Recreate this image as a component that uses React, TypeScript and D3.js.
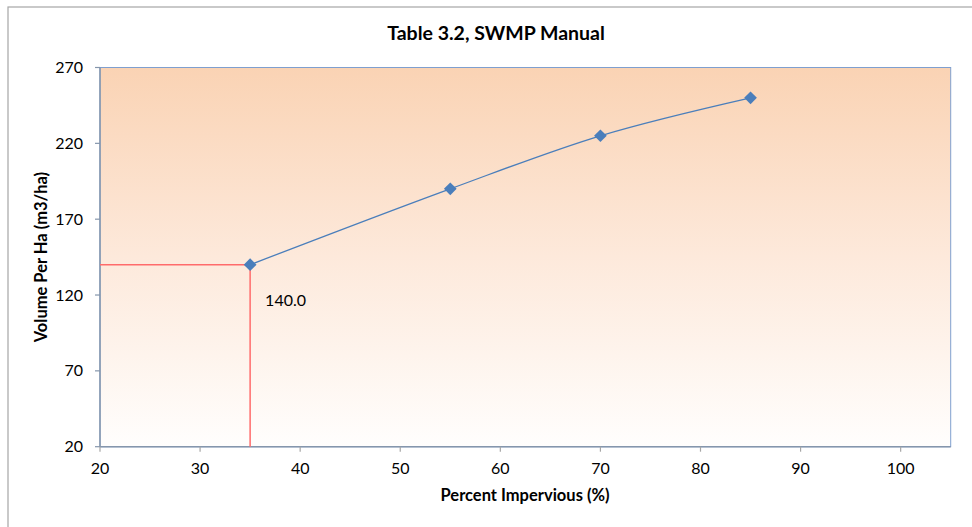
import React from "react";
import * as d3 from "d3";

const percentImpervious = [35, 55, 70, 85];
const volumePerHa = [140, 190, 225, 250];
const xTicks = [20, 30, 40, 50, 60, 70, 80, 90, 100];
const yTicks = [20, 70, 120, 170, 220, 270];
const markedX = 35;
const markedY = 140;

const W = 972;
const H = 527;
const plot = { left: 100, top: 67.5, right: 950.7, bottom: 446.7 };
const font = "Lato, 'Open Sans', sans-serif";

export default function App() {
  const x = d3.scaleLinear().domain([20, 105]).range([plot.left, plot.right]);
  const y = d3.scaleLinear().domain([20, 270]).range([plot.bottom, plot.top]);
  const pts: [number, number][] = percentImpervious.map((p, i) => [p, volumePerHa[i]]);
  const line = d3
    .line<[number, number]>()
    .x((d) => x(d[0]))
    .y((d) => y(d[1]))
    .curve(d3.curveCatmullRom.alpha(0.5));

  return (
    <svg
      width={W}
      height={H}
      style={{ position: "absolute", left: 0, top: 0, background: "#fff" }}
    >
      <defs>
        <linearGradient id="plotFill" x1="0" y1="0" x2="0" y2="1">
          <stop offset="0" stopColor="#fad3b4" />
          <stop offset="0.5" stopColor="#fde9db" />
          <stop offset="1" stopColor="#fffefd" />
        </linearGradient>
      </defs>
      {/* chart frame */}
      <rect x={8} y={7} width={1000} height={600} fill="#fff" stroke="#a6a6a6" strokeWidth={1.2} />

      <text x={496} y={40} textAnchor="middle" fontFamily={font} fontWeight="bold" fontSize={19.5} fill="#000">
        Table 3.2, SWMP Manual
      </text>

      {/* plot area */}
      <rect
        x={plot.left}
        y={plot.top}
        width={plot.right - plot.left}
        height={plot.bottom - plot.top}
        fill="url(#plotFill)"
        stroke="#7f9fcf"
        strokeWidth={1}
      />

      {/* y axis */}
      <line x1={plot.left} y1={plot.top} x2={plot.left} y2={plot.bottom} stroke="#8596ac" strokeWidth={1.5} />
      {yTicks.map((t) => (
        <g key={"y" + t}>
          <line x1={plot.left - 5} x2={plot.left} y1={y(t)} y2={y(t)} stroke="#8596ac" strokeWidth={1.2} />
          <text x={83} y={y(t) + 5.5} textAnchor="end" fontFamily={font} fontSize={16} fill="#000">
            {t}
          </text>
        </g>
      ))}

      {/* x axis */}
      <line x1={plot.left} y1={plot.bottom} x2={plot.right} y2={plot.bottom} stroke="#8596ac" strokeWidth={1.5} />
      {xTicks.map((t) => (
        <g key={"x" + t}>
          <line x1={x(t)} x2={x(t)} y1={plot.bottom} y2={plot.bottom + 5} stroke="#a6a6a6" strokeWidth={1.2} />
          <text x={x(t)} y={474} textAnchor="middle" fontFamily={font} fontSize={16} fill="#000">
            {t}
          </text>
        </g>
      ))}

      <text x={525} y={501} textAnchor="middle" fontFamily={font} fontWeight="bold" fontSize={16.5} fill="#000">
        Percent Impervious (%)
      </text>
      <text
        transform={`translate(47,${(plot.top + plot.bottom) / 2}) rotate(-90)`}
        textAnchor="middle"
        fontFamily={font}
        fontWeight="bold"
        fontSize={16.5}
        fill="#000"
      >
        Volume Per Ha (m3/ha)
      </text>

      {/* reading guide lines */}
      <line x1={x(20)} x2={x(markedX)} y1={y(markedY)} y2={y(markedY)} stroke="#ff6b6b" strokeWidth={1.5} />
      <line x1={x(markedX)} x2={x(markedX)} y1={y(markedY)} y2={y(20)} stroke="#ff6b6b" strokeWidth={1.5} />

      {/* series */}
      <path d={line(pts) ?? ""} fill="none" stroke="#4a7ebb" strokeWidth={1.3} />
      {pts.map((d, i) => (
        <rect
          key={i}
          x={x(d[0]) - 4.5}
          y={y(d[1]) - 4.5}
          width={9}
          height={9}
          fill="#4a7ebb"
          transform={`rotate(45 ${x(d[0])} ${y(d[1])})`}
        />
      ))}

      <text x={x(markedX) + 15} y={y(markedY) + 41} fontFamily={font} fontSize={16} fill="#000">
        {markedY.toFixed(1)}
      </text>
    </svg>
  );
}
